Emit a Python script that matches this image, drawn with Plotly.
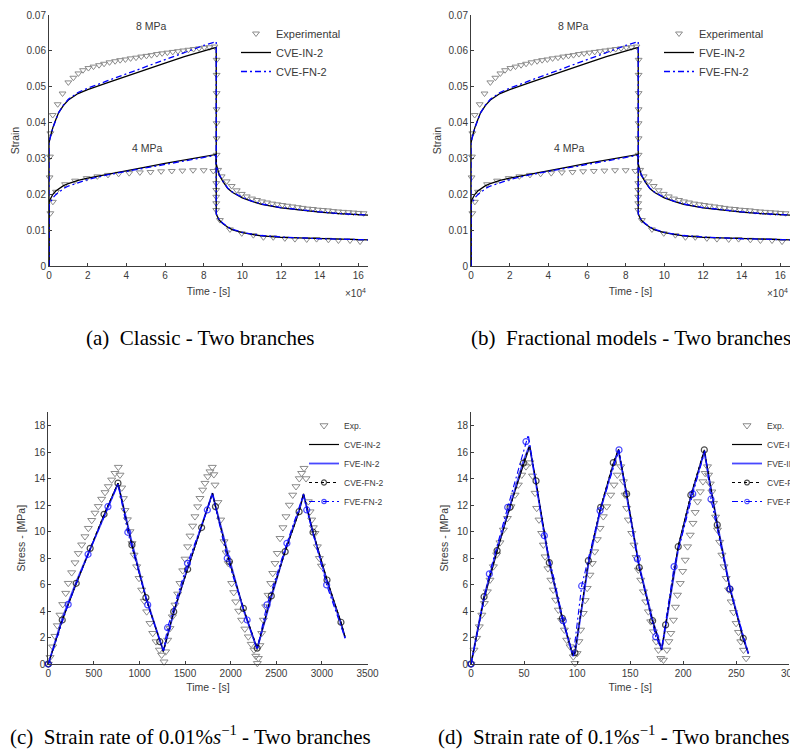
import plotly.graph_objects as go

W, H = 798, 749

# ---------------- Panels (a)/(b): creep - recovery (time in 1e4 s) ----------------
creep_t = [0, 0, 0.05, 0.1, 0.2, 0.35, 0.5, 0.75, 1.0, 1.5, 2.0, 3.0, 4.0, 5.0, 6.0, 7.0, 8.0, 8.65,
           8.65, 8.7, 8.8, 9.0, 9.25, 9.5, 10.0, 10.5, 11.0, 12.0, 13.0, 14.0, 15.0, 16.0, 16.5]
in8 = [0, 0.0342, 0.0357, 0.0368, 0.0386, 0.0408, 0.0428, 0.0448, 0.0463, 0.0481, 0.0492, 0.0511, 0.0530,
       0.0548, 0.0566, 0.0584, 0.0600, 0.0610,
       0.0285, 0.0272, 0.0255, 0.0235, 0.0216, 0.0205, 0.0190, 0.0180, 0.0172, 0.0162, 0.0155, 0.0150,
       0.0146, 0.0143, 0.0142]
fn8 = [0, 0.0340, 0.0355, 0.0367, 0.0385, 0.0407, 0.0428, 0.0449, 0.0465, 0.0484, 0.0496, 0.0516, 0.0536,
       0.0556, 0.0576, 0.0597, 0.0615, 0.0626,
       0.0286, 0.0273, 0.0256, 0.0236, 0.0217, 0.0206, 0.0191, 0.0181, 0.0173, 0.0163, 0.0156, 0.0151,
       0.0146, 0.0143, 0.0142]
in4 = [0, 0.0178, 0.0185, 0.0191, 0.0200, 0.0209, 0.0215, 0.0224, 0.0230, 0.0239, 0.0245, 0.0256, 0.0266,
       0.0276, 0.0286, 0.0295, 0.0304, 0.0311,
       0.0145, 0.0138, 0.0128, 0.0118, 0.0108, 0.0101, 0.0093, 0.0088, 0.0084, 0.0080, 0.0078, 0.0076,
       0.0075, 0.0074, 0.0073]
fn4 = [0, 0.0168, 0.0175, 0.0181, 0.0190, 0.0199, 0.0206, 0.0216, 0.0223, 0.0233, 0.0241, 0.0254, 0.0264,
       0.0274, 0.0284, 0.0293, 0.0302, 0.0309,
       0.0146, 0.0139, 0.0129, 0.0119, 0.0109, 0.0102, 0.0094, 0.0089, 0.0085, 0.0081, 0.0078, 0.0076,
       0.0075, 0.0074, 0.0073]

exp8_t = [0.03, 0.05, 0.07, 0.19, 0.45, 0.7, 1.0, 1.26, 1.52, 1.76, 2.04, 2.3, 2.59, 2.85, 3.13, 3.42, 3.68,
          3.95, 4.22, 4.5, 4.77, 5.04, 5.3, 5.58, 5.85, 6.12, 6.4, 6.67, 6.94, 7.21, 7.48, 7.76, 8.03, 8.3, 8.56,
          8.67, 8.67, 8.67, 8.67, 8.67, 8.67, 8.67,
          8.75, 8.93, 9.19, 9.45, 9.71, 9.97, 10.23, 10.5, 10.76, 11.02, 11.28, 11.55, 11.81, 12.07, 12.33,
          12.6, 12.86, 13.12, 13.38, 13.65, 13.91, 14.17, 14.43, 14.7, 14.96, 15.22, 15.48, 15.75, 16.01, 16.27]
exp8_s = [0.0247, 0.0305, 0.0370, 0.0421, 0.0451, 0.0481, 0.0512, 0.0525, 0.0537, 0.0546, 0.0552, 0.0556,
          0.0560, 0.0564, 0.0568, 0.0571, 0.0574, 0.0576, 0.0579, 0.0581, 0.0584, 0.0586, 0.0588, 0.0591,
          0.0593, 0.0595, 0.0597, 0.0599, 0.0601, 0.0603, 0.0605, 0.0607, 0.0609, 0.0610, 0.0612,
          0.0575, 0.0533, 0.0482, 0.0437, 0.0398, 0.0356, 0.0310,
          0.0268, 0.0250, 0.0236, 0.0223, 0.0211, 0.0201, 0.0194, 0.0188, 0.0184, 0.0180, 0.0177, 0.0174,
          0.0172, 0.0170, 0.0168, 0.0166, 0.0164, 0.0162, 0.0160, 0.0159, 0.0157, 0.0156, 0.0155, 0.0153,
          0.0152, 0.0151, 0.0150, 0.0149, 0.0148, 0.0147]
exp4_t = [0.07, 0.2, 0.36, 0.83, 1.35, 1.95, 2.5, 3.05, 3.6, 4.15, 4.7, 5.25, 5.8, 6.35, 6.9, 7.45, 8.0, 8.5,
          8.65, 8.65, 8.65, 8.65, 8.65,
          8.84, 9.36, 9.97, 10.57, 11.09, 11.6, 12.2, 12.72, 13.33, 13.84, 14.45, 14.97, 15.57, 16.09]
exp4_s = [0.0147, 0.0179, 0.0207, 0.0228, 0.0238, 0.0245, 0.0250, 0.0254, 0.0257, 0.0259, 0.0261, 0.0262,
          0.0264, 0.0265, 0.0266, 0.0267, 0.0267, 0.0265,
          0.0231, 0.0212, 0.0193, 0.0175, 0.0156,
          0.0128, 0.0102, 0.0091, 0.0086, 0.0080, 0.0080, 0.0077, 0.0075, 0.0074, 0.0075, 0.0073, 0.0071,
          0.0071, 0.0068]

strain_ticks = [0, 0.01, 0.02, 0.03, 0.04, 0.05, 0.06, 0.07]
strain_ticktext = ["0", "0.01", "0.02", "0.03", "0.04", "0.05", "0.06", "0.07"]
time4_ticks = [0, 2, 4, 6, 8, 10, 12, 14, 16]

# ---------------- Panel (c): strain rate 0.01 %/s ----------------
c_exp_t = [0, 19, 48, 73, 99, 128, 158, 191, 219, 256, 293, 329, 366, 402, 439, 476, 512, 548, 585, 622, 658,
           695, 731, 768,
           786, 805, 823, 841, 867, 896, 918, 940, 969, 995, 1024, 1052, 1079, 1115, 1145, 1181, 1218, 1243, 1269,
           1287, 1309, 1334, 1360, 1389, 1419, 1444, 1474, 1499, 1528, 1554, 1583, 1608, 1638, 1663, 1693, 1718,
           1748, 1773, 1798,
           1815, 1828, 1860, 1890, 1927, 1950, 1974, 2011, 2033, 2055, 2088, 2120, 2155, 2193, 2225, 2255, 2275,
           2292,
           2303, 2320, 2340, 2358, 2384, 2410, 2439, 2461, 2486, 2511, 2541, 2573, 2606, 2643, 2680, 2716, 2752,
           2778, 2804,
           2826, 2851, 2870, 2888, 2906, 2924, 2950, 2972, 2995]
c_exp_s = [0, 0.5, 1.3, 2.1, 2.9, 3.7, 4.5, 5.35, 6.1, 6.9, 7.65, 8.35, 9.0, 9.62, 10.25, 10.85, 11.4, 11.9,
           12.45, 12.95, 13.4, 13.9, 14.4, 14.86,
           14.27, 13.3, 12.5, 11.6, 10.9, 10.0, 9.1, 8.23, 7.35, 6.47, 5.59, 4.75, 3.95, 3.07, 2.32, 1.69, 1.06,
           0.68, 0.17,
           0.93, 1.81, 2.69, 3.57, 4.46, 5.29, 6.09, 7.05, 7.93, 8.86, 9.67, 10.42, 11.13, 11.88, 12.51, 13.14,
           13.65, 14.15, 14.52, 14.86,
           14.3, 13.52, 12.2, 10.88, 9.24, 8.4, 7.6, 6.09, 5.4, 4.7, 4.0, 3.32, 2.65, 2.06, 1.5, 1.06, 0.6, 0.05,
           0.43, 1.4, 2.32, 3.32, 4.33, 5.2, 6.09, 6.85, 7.6, 8.36, 9.49, 10.3, 11.13, 12.0, 12.76, 13.4, 14.0,
           14.4, 14.78,
           14.0, 12.26, 11.5, 10.88, 10.3, 9.87, 8.86, 7.98, 7.4]

c_line_t = [0, 153, 306, 459, 611, 764, 917, 1070, 1222, 1262, 1375, 1528, 1681, 1800, 1833, 1986, 2139, 2290,
            2445, 2597, 2750, 2798, 2903, 3056, 3209, 3255]
c_cve_in = [0, 3.3, 6.05, 8.7, 11.25, 13.65, 9.0, 5.0, 1.7, 0.95, 3.95, 7.15, 10.3, 12.9, 11.9, 7.75, 4.2, 1.1,
            5.15, 8.5, 11.5, 12.85, 9.95, 6.35, 3.15, 2.0]
c_fve_in = [0, 3.45, 6.2, 8.65, 11.2, 13.6, 9.15, 5.05, 1.8, 1.0, 3.85, 7.3, 10.45, 12.9, 11.95, 7.9, 4.1, 1.15,
            5.0, 8.6, 11.6, 12.8, 9.9, 6.2, 3.05, 1.95]
c_cve_fn = [0, 3.32, 6.09, 8.73, 11.3, 13.65, 8.99, 5.01, 1.69, 0.95, 3.95, 7.15, 10.3, 12.9, 11.88, 7.73, 4.2,
            1.2, 5.14, 8.48, 11.5, 12.85, 9.95, 6.34, 3.15, 2.0]
c_cve_fn_mark_t = [0, 153, 306, 459, 611, 764, 917, 1070, 1222, 1375, 1528, 1681, 1833, 1986, 2139, 2290, 2445,
                   2597, 2750, 2903, 3056, 3209]
c_fve_fn_t = [0, 218, 436, 654, 764, 872, 1090, 1262, 1308, 1526, 1744, 1800, 1962, 2180, 2290, 2398, 2616,
              2798, 2834, 3052, 3255]
c_fve_fn = [0, 4.5, 8.28, 11.88, 13.6, 9.94, 4.46, 1.0, 2.74, 7.6, 11.63, 12.85, 7.98, 3.32, 1.1, 4.46, 9.11,
            12.8, 11.63, 5.97, 1.95]
c_fve_fn_mark_t = [0, 218, 436, 654, 872, 1090, 1308, 1526, 1744, 1962, 2180, 2398, 2616, 2834, 3052]

# ---------------- Panel (d): strain rate 0.1 %/s ----------------
d_exp_t = [0, 2.8, 5.3, 7.8, 10.2, 12.6, 15.4, 17.9, 21.1, 24.2, 27.3, 30.5, 34.3, 37.7, 41.5, 44.6, 47.8, 51.8,
           55.6,
           58, 60.4, 61.9, 64.1, 66.6, 68.2, 69.8, 72.5, 75.3, 77.5, 79.8, 82.3, 85.2, 88, 90.2, 93.4, 96.4, 98,
           100, 101.7, 103.3, 105.8, 107.6, 109.5, 112.1, 114.3, 116.6, 119, 121.6, 124.7, 127.9, 131.7, 134.8,
           137.9, 141.1,
           143.6, 145.2, 146.7, 148.3, 151.5, 153.6, 155.6, 157.7, 160, 162.5, 164.7, 167.2, 169.4, 171.9, 174.5,
           176.6, 178.9, 181.4,
           184.6, 186.5, 188.3, 190.8, 192.7, 194.6, 197.2, 199.5, 201.9, 204.1, 206.6, 209.2, 211.3, 213.5,
           216.1, 218.6, 220.7, 222.9,
           223.9, 225.5, 227, 228.6, 230.5, 232.3, 234.4, 236.5, 238.5, 240.5, 242.8, 245.2, 247.5, 249.9, 252.1,
           254.3, 256.8, 259.3]
d_exp_s = [0, 1.06, 1.95, 2.82, 3.7, 4.58, 5.46, 6.34, 7.35, 8.25, 9.16, 10.12, 11.0, 11.88, 12.76, 13.52, 14.27,
           14.9, 15.2,
           14.2, 12.9, 11.76, 10.88, 9.87, 8.99, 8.1, 7.2, 6.34, 5.59, 4.83, 4.08, 3.3, 2.57, 1.81, 1.31, 0.55,
           0.05,
           0.8, 1.7, 2.57, 3.83, 4.8, 5.72, 6.72, 7.6, 8.48, 9.4, 10.25, 11.13, 11.88, 12.76, 13.52, 14.27, 14.9,
           13.77, 12.76, 11.76, 10.88, 9.87, 8.99, 8.05, 7.1, 6.34, 5.46, 4.7, 3.95, 3.2, 2.44, 1.69, 1.06, 0.43,
           0.3,
           1.06, 1.7, 2.32, 3.32, 4.3, 5.21, 6.09, 7.0, 7.85, 8.86, 9.74, 10.63, 11.45, 12.26, 13.01, 13.77, 14.4,
           14.9,
           14.27, 13.6, 13.0, 12.14, 11.1, 10.12, 9.2, 8.23, 7.35, 6.47, 5.6, 4.7, 3.9, 3.07, 2.4, 1.69, 1.05, 0.43]

d_line_t = [0, 12.3, 24.6, 36.8, 49.3, 55.2, 61.3, 73.8, 86.1, 96.0, 98.0, 110.6, 122.2, 134.1, 139.0, 146.7,
            158.6, 171.2, 179.7, 183.4, 195.3, 207.2, 219.9, 232.1, 244.0, 256.6, 261.4]
d_cve_in = [0, 4.9, 8.5, 11.9, 15.0, 16.4, 13.7, 7.7, 3.5, 0.7, 0.9, 7.6, 11.8, 15.1, 16.2, 12.9, 7.3, 3.2, 1.05,
            2.9, 8.9, 12.7, 16.1, 10.5, 5.7, 1.9, 0.8]
d_fve_in = [0, 5.1, 8.7, 12.0, 15.3, 16.5, 13.5, 7.6, 3.4, 0.6, 0.8, 7.5, 11.7, 15.0, 16.1, 12.8, 7.4, 3.3, 1.1,
            2.8, 8.7, 12.6, 16.0, 10.6, 5.8, 2.0, 0.8]
d_cve_fn = [0, 5.08, 8.56, 11.83, 15.16, 16.5, 13.82, 7.65, 3.45, 0.6, 0.85, 7.8, 11.83, 15.2, 16.2, 12.84, 7.28,
            3.27, 1.06, 2.95, 8.86, 12.76, 16.16, 10.5, 5.66, 1.94, 0.8]
d_cve_fn_mark_t = [0, 12.3, 24.6, 36.8, 49.3, 61.3, 73.8, 86.1, 98.0, 110.6, 122.2, 134.1, 146.7, 158.6, 171.2,
                   183.4, 195.3, 207.2, 219.9, 232.1, 244.0, 256.6]
d_fve_fn_t = [0, 17.3, 34.6, 51.8, 54.0, 69.1, 87.0, 96.4, 104.3, 121.6, 139.5, 156.8, 174.1, 179.5, 191.4,
              209.0, 220.5, 226.2, 244.0, 261.4]
d_fve_fn = [0, 6.8, 11.83, 16.79, 17.3, 9.69, 3.27, 0.6, 5.89, 11.58, 16.16, 7.93, 2.06, 1.1, 7.35, 12.84, 16.1,
            12.44, 5.66, 0.8]
d_fve_fn_mark_t = [0, 17.3, 34.6, 51.8, 69.1, 87.0, 104.3, 121.6, 139.5, 156.8, 174.1, 191.4, 209.0, 226.2, 244.0]

stress_ticks = [0, 2, 4, 6, 8, 10, 12, 14, 16, 18]
c_time_ticks = [0, 500, 1000, 1500, 2000, 2500, 3000, 3500]
d_time_ticks = [0, 50, 100, 150, 200, 250, 300]

# ---------------- styling ----------------
SANS = "Liberation Sans, Arial, sans-serif"
SERIF = "Liberation Serif, Times New Roman, serif"
AX = "#3c3c3c"
TXT = "#3a3a3a"
GREY = "#8a8a8a"
BLUE = "#0000ff"
OFF = 8  # page body margin of the html page

fig = go.Figure()


def exp_trace(x, y, name, xa, ya, leg, size):
    return go.Scatter(x=x, y=y, mode="markers", name=name, xaxis=xa, yaxis=ya, legend=leg,
                      cliponaxis=False,
                      marker=dict(symbol="triangle-down-open", size=size, color=GREY, line=dict(width=1, color=GREY)))


def line_trace(x, y, name, xa, ya, leg, color, width, dash="solid", show=True):
    return go.Scatter(x=x, y=y, mode="lines", name=name, xaxis=xa, yaxis=ya, legend=leg, showlegend=show,
                      legendgroup=leg + name, line=dict(color=color, width=width, dash=dash))


def fn_trace(x, y, marks, name, xa, ya, leg, color, dash):
    mset = set(marks)
    sizes = [6 if t in mset else 0 for t in x]
    return go.Scatter(x=x, y=y, mode="lines+markers", name=name, xaxis=xa, yaxis=ya, legend=leg,
                      cliponaxis=False,
                      line=dict(color=color, width=1.1, dash=dash),
                      marker=dict(symbol="circle-open", size=sizes, color=color, line=dict(width=1.2, color=color)))


DASHDOT = "6px,3px,2px,3px"

# panels (a) and (b)
for xa, ya, leg, nin, nfn in [("x", "y", "legend", "CVE-IN-2", "CVE-FN-2"),
                              ("x2", "y2", "legend2", "FVE-IN-2", "FVE-FN-2")]:
    fig.add_trace(exp_trace(exp8_t, exp8_s, "Experimental", xa, ya, leg, 6))
    fig.add_trace(go.Scatter(x=exp4_t, y=exp4_s, mode="markers", showlegend=False, xaxis=xa, yaxis=ya,
                             cliponaxis=False,
                             marker=dict(symbol="triangle-down-open", size=6, color=GREY,
                                         line=dict(width=1, color=GREY))))
    fig.add_trace(line_trace(creep_t, in8, nin, xa, ya, leg, "black", 1.3))
    fig.add_trace(line_trace(creep_t, fn8, nfn, xa, ya, leg, BLUE, 1.3, DASHDOT))
    fig.add_trace(line_trace(creep_t, in4, nin, xa, ya, leg, "black", 1.3, show=False))
    fig.add_trace(line_trace(creep_t, fn4, nfn, xa, ya, leg, BLUE, 1.3, DASHDOT, show=False))

# panel (c)
fig.add_trace(exp_trace(c_exp_t, c_exp_s, "Exp.", "x3", "y3", "legend3", 7))
fig.add_trace(line_trace(c_line_t, c_cve_in, "CVE-IN-2", "x3", "y3", "legend3", "black", 1.2))
fig.add_trace(line_trace(c_line_t, c_fve_in, "FVE-IN-2", "x3", "y3", "legend3", "rgba(40,40,255,0.85)", 1.8))
fig.add_trace(fn_trace(c_line_t, c_cve_fn, c_cve_fn_mark_t, "CVE-FN-2", "x3", "y3", "legend3", "black", "dot"))
fig.add_trace(fn_trace(c_fve_fn_t, c_fve_fn, c_fve_fn_mark_t, "FVE-FN-2", "x3", "y3", "legend3", BLUE, DASHDOT))

# panel (d)
fig.add_trace(exp_trace(d_exp_t, d_exp_s, "Exp.", "x4", "y4", "legend4", 7))
fig.add_trace(line_trace(d_line_t, d_cve_in, "CVE-IN-2", "x4", "y4", "legend4", "black", 1.2))
fig.add_trace(line_trace(d_line_t, d_fve_in, "FVE-IN-2", "x4", "y4", "legend4", "rgba(40,40,255,0.85)", 1.8))
fig.add_trace(fn_trace(d_line_t, d_cve_fn, d_cve_fn_mark_t, "CVE-FN-2", "x4", "y4", "legend4", "black", "dot"))
fig.add_trace(fn_trace(d_fve_fn_t, d_fve_fn, d_fve_fn_mark_t, "FVE-FN-2", "x4", "y4", "legend4", BLUE, DASHDOT))


def ax(domain, anchor, rng, tickvals, ticktext=None, title=None, standoff=None):
    d = dict(domain=domain, anchor=anchor, range=rng, tickvals=tickvals, showline=True, linecolor=AX,
             linewidth=1, ticks="inside", ticklen=3, tickwidth=1, tickcolor=AX, showgrid=False,
             zeroline=False, mirror=False, fixedrange=True,
             tickfont=dict(family=SANS, size=10, color=TXT))
    if ticktext is not None:
        d["ticktext"] = ticktext
    if title:
        d["title"] = dict(text=title, font=dict(family=SANS, size=10.5, color=TXT), standoff=standoff)
    return d


def fx(p):
    return (p - OFF) / W


def fy(p):
    return 1 - (p - OFF) / H


top_y = [fy(266), fy(15)]
bot_y = [fy(664), fy(412.3)]

layout = dict(
    width=W, height=H, margin=dict(l=0, r=0, t=0, b=0, autoexpand=False),
    paper_bgcolor="white", plot_bgcolor="white",
    font=dict(family=SANS, color=TXT),
    xaxis=ax([fx(49), fx(368)], "y", [0, 16.5], time4_ticks, title="Time - [s]", standoff=7),
    yaxis=ax(top_y, "x", [0, 0.07], strain_ticks, strain_ticktext, title="Strain", standoff=4),
    xaxis2=ax([fx(471), fx(790)], "y2", [0, 16.5], time4_ticks, title="Time - [s]", standoff=7),
    yaxis2=ax(top_y, "x2", [0, 0.07], strain_ticks, strain_ticktext, title="Strain", standoff=4),
    xaxis3=ax([fx(48.3), fx(367.5)], "y3", [0, 3500], c_time_ticks, title="Time - [s]", standoff=5),
    yaxis3=ax(bot_y, "x3", [0, 19], stress_ticks, title="Stress - [MPa]", standoff=6),
    xaxis4=ax([fx(471), fx(789.3)], "y4", [0, 300], d_time_ticks, title="Time - [s]", standoff=5),
    yaxis4=ax(bot_y, "x4", [0, 19], stress_ticks, title="Stress - [MPa]", standoff=6),
    legend=dict(x=fx(236), y=fy(19), xanchor="left", yanchor="top", bgcolor="rgba(0,0,0,0)",
                font=dict(family=SANS, size=11, color=TXT), tracegroupgap=0),
    legend2=dict(x=fx(659), y=fy(19), xanchor="left", yanchor="top", bgcolor="rgba(0,0,0,0)",
                 font=dict(family=SANS, size=11, color=TXT), tracegroupgap=0),
    legend3=dict(x=fx(304), y=fy(411), xanchor="left", yanchor="top", bgcolor="rgba(0,0,0,0)",
                 font=dict(family=SANS, size=8.5, color=TXT), tracegroupgap=0),
    legend4=dict(x=fx(727), y=fy(411), xanchor="left", yanchor="top", bgcolor="rgba(0,0,0,0)",
                 font=dict(family=SANS, size=8.5, color=TXT), tracegroupgap=0),
)
fig.update_layout(**layout)

ann_font = dict(family=SANS, size=10.5, color=TXT)
annotations = [
    dict(x=5.3, y=0.0669, xref="x", yref="y", text="8 MPa", showarrow=False, font=ann_font),
    dict(x=5.1, y=0.0329, xref="x", yref="y", text="4 MPa", showarrow=False, font=ann_font),
    dict(x=5.3, y=0.0669, xref="x2", yref="y2", text="8 MPa", showarrow=False, font=ann_font),
    dict(x=5.1, y=0.0329, xref="x2", yref="y2", text="4 MPa", showarrow=False, font=ann_font),
    dict(x=fx(368), y=fy(293), xref="paper", yref="paper", xanchor="right", yanchor="middle",
         text="×10<sup>4</sup>", showarrow=False, font=dict(family=SANS, size=10, color=TXT)),
    dict(x=fx(790), y=fy(293), xref="paper", yref="paper", xanchor="right", yanchor="middle",
         text="×10<sup>4</sup>", showarrow=False, font=dict(family=SANS, size=10, color=TXT)),
]
cap_font = dict(family=SERIF, size=21, color="black")
captions = [
    (84, 338, "(a)\u00a0\u00a0Classic - Two branches"),
    (469, 338, "(b)\u00a0\u00a0Fractional models - Two branches"),
    (8, 735, "(c)\u00a0\u00a0Strain rate of 0.01%<i>s</i><sup>−1</sup> - Two branches"),
    (436, 735, "(d)\u00a0\u00a0Strain rate of 0.1%<i>s</i><sup>−1</sup> - Two branches"),
]
for cx, cy, txt in captions:
    annotations.append(dict(x=fx(cx), y=fy(cy), xref="paper", yref="paper", xanchor="left",
                            yanchor="middle", text=txt, showarrow=False, font=cap_font))
fig.update_layout(annotations=annotations)

fig.write_html("out.html")
